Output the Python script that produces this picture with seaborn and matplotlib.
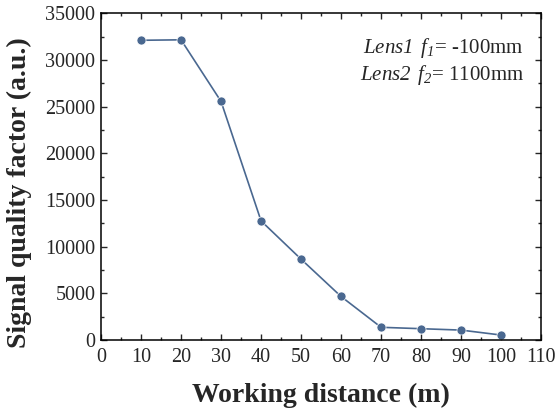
import numpy as np
import pandas as pd
import matplotlib as mpl
import matplotlib.pyplot as plt
import seaborn as sns
from matplotlib.ticker import MultipleLocator

# data
distance = [10, 20, 30, 40, 50, 60, 70, 80, 90, 100]
quality = [32100, 32150, 25550, 12750, 8650, 4650, 1350, 1200, 1050, 520]

sns.set_style("ticks")
mpl.rcParams['font.family'] = ['Liberation Serif', 'DejaVu Serif']
# math text only used for the italic lens notes, digits included
mpl.rcParams['mathtext.fontset'] = 'custom'
mpl.rcParams['mathtext.rm'] = 'Liberation Serif:italic'
mpl.rcParams['mathtext.it'] = 'Liberation Serif:italic'

df = pd.DataFrame({"Distance": distance, "Quality": quality})
line_color = "#4a6890"

fig = plt.figure(figsize=(5.55, 4.13), dpi=100)
ax = fig.add_axes([0.182, 0.177, 0.793, 0.791])

sns.lineplot(data=df, x="Distance", y="Quality", color=line_color, marker="o",
             markersize=6.5, markeredgecolor="white", markeredgewidth=0.5,
             linewidth=1.2, ax=ax)

ax.set_xlim(0, 110)
ax.set_ylim(0, 35000)
ax.xaxis.set_major_locator(MultipleLocator(10))
ax.xaxis.set_minor_locator(MultipleLocator(5))
ax.yaxis.set_major_locator(MultipleLocator(5000))
ax.yaxis.set_minor_locator(MultipleLocator(2500))
ax.tick_params(which='both', direction='in', top=True, right=True, labelsize=14.5, width=1)
ax.tick_params(which='major', length=4)
ax.tick_params(which='minor', length=2.5)
ax.tick_params(axis='x', pad=6)
ax.tick_params(axis='y', pad=4)
for s in ax.spines.values():
    s.set_linewidth(1.1)
    s.set_color('black')

ax.set_xlabel("Working distance (m)", fontsize=20, fontweight='bold', labelpad=11)
ax.set_ylabel("Signal quality factor (a.u.)", fontsize=20, fontweight='bold')
ax.yaxis.set_label_coords(-0.157, 0.451)

ax.text(0.961, 0.894, r"$Lens1\ \,f_{1}$= -100mm", transform=ax.transAxes,
        ha='right', va='center', fontsize=15)
ax.text(0.961, 0.811, r"$Lens2\ \,f_{2}$= 1100mm", transform=ax.transAxes,
        ha='right', va='center', fontsize=15)

plt.savefig("out.png", dpi=100)
